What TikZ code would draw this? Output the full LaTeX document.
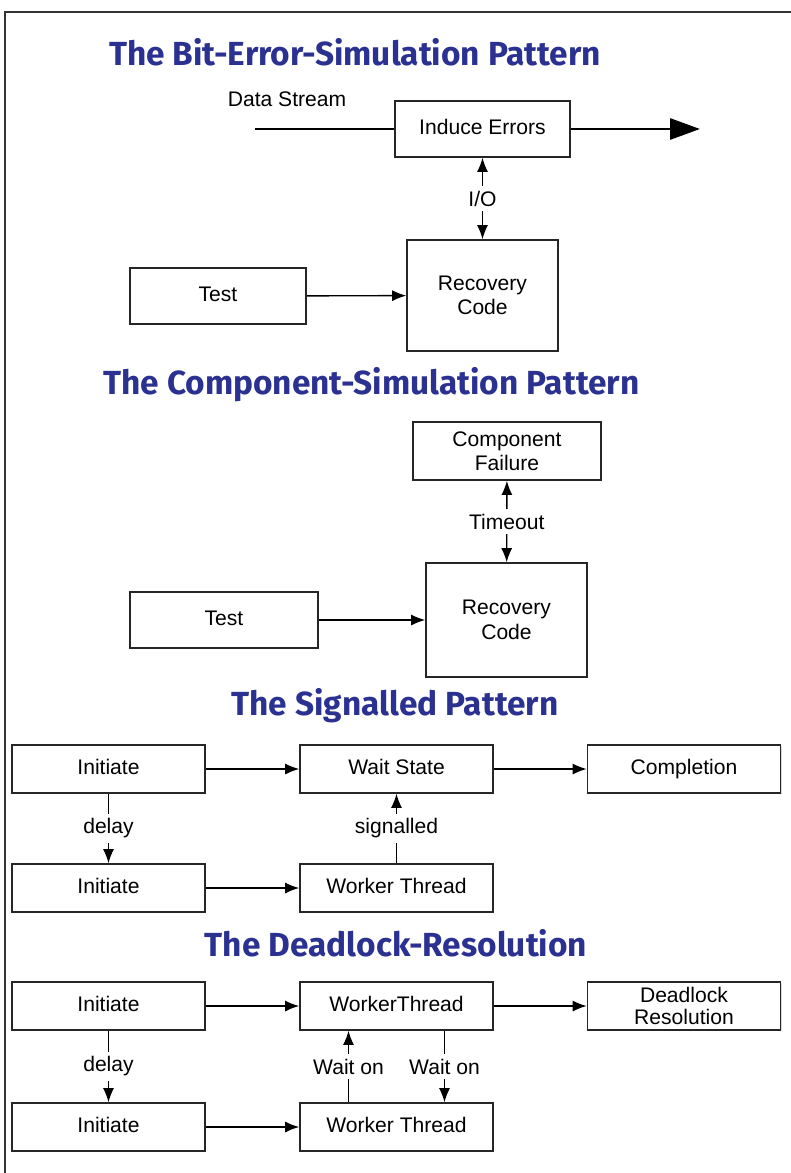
\documentclass[tikz,border=0pt]{standalone}
\usepackage{fontspec}
\setmainfont{Liberation Sans}
\newfontfamily\titlefont{Fira Sans}
\usetikzlibrary{arrows.meta,shadows}
\definecolor{titleblue}{RGB}{43,49,145}
\tikzset{
  box/.style={draw=black!85, line width=0.9pt, fill=white, inner sep=0pt, align=center,
    font=\fontsize{12}{14}\selectfont,
    drop shadow={shadow xshift=0.7pt,shadow yshift=-0.7pt,opacity=0.3}},
  title/.style={font=\titlefont\bfseries\fontsize{19}{22}\selectfont, text=titleblue},
  lbl/.style={fill=white, inner sep=2.5pt, font=\fontsize{12}{14}\selectfont},
  conn/.style={line width=0.8pt, -{Latex[length=2.8mm,width=2.2mm]}},
  dbl/.style={line width=0.8pt, {Latex[length=2.8mm,width=2.2mm]}-{Latex[length=2.8mm,width=2.2mm]}},
  wide/.style={minimum width=3.86cm, minimum height=0.96cm},
  oneline/.style={text height=1.7ex, text depth=0.5ex},
}
\begin{document}
\begin{tikzpicture}
\useasboundingbox (0,0) rectangle (15.82,-23.46);
% frame
\draw[line width=1.5pt, black!80] (0.1,-23.46) -- (0.1,-0.24) -- (15.82,-0.24);

% Bit-Error-Simulation
\node[title] (title1) at (7.1,-1.04) {The Bit-Error-Simulation Pattern};
\node[font=\fontsize{12}{14}\selectfont] (dstxt) at (5.74,-1.98) {Data Stream};
\node[box, oneline, minimum width=3.5cm, minimum height=1.12cm] (induce) at (9.65,-2.58) {Induce Errors};
\node[box, minimum width=3.02cm, minimum height=2.22cm] (rec1) at (9.65,-5.91) {Recovery\\Code};
\node[box, oneline, minimum width=3.52cm, minimum height=1.12cm] (test1) at (4.36,-5.92) {Test};
\coordinate (dsin) at (5.1,-2.58);
\coordinate (dsout) at (14.0,-2.58);
\draw[line width=1.7pt] (dsin) -- (induce.west);
\draw[line width=1.7pt, -{Triangle[length=6mm,width=4.2mm]}] (induce.east) -- (dsout);
\draw[dbl] (induce) -- node[lbl]{I/O} (rec1);
\draw[conn] (test1) -- (rec1);

% Component-Simulation
\node[title] (title2) at (7.43,-7.7) {The Component-Simulation Pattern};
\node[box, minimum width=3.76cm, minimum height=1.16cm, font=\fontsize{12}{13.5}\selectfont] (fail) at (10.14,-9.02) {Component\\Failure};
\node[box, minimum width=3.22cm, minimum height=2.28cm] (rec2) at (10.13,-12.4) {Recovery\\Code};
\node[box, oneline, minimum width=3.76cm, minimum height=1.12cm] (test2) at (4.48,-12.4) {Test};
\draw[dbl] (fail) -- node[lbl]{Timeout} (rec2);
\draw[conn] (test2) -- (rec2);

% Signalled
\node[title] (title3) at (7.9,-14.12) {The Signalled Pattern};
\node[box, wide, oneline] (init1) at (2.17,-15.38) {Initiate};
\node[box, wide, oneline] (wait) at (7.93,-15.38) {Wait State};
\node[box, wide, oneline] (comp) at (13.68,-15.38) {Completion};
\node[box, wide, oneline] (init2) at (2.17,-17.76) {Initiate};
\node[box, wide, oneline] (work1) at (7.93,-17.76) {Worker Thread};
\draw[conn] (init1) -- (wait);
\draw[conn] (wait) -- (comp);
\draw[conn] (init2) -- (work1);
\draw[conn] (init1) -- node[lbl]{delay} (init2);
\draw[conn] (work1) -- node[lbl]{signalled} (wait);

% Deadlock-Resolution
\node[title] (title4) at (7.92,-18.86) {The Deadlock-Resolution};
\node[box, wide, oneline] (init3) at (2.17,-20.12) {Initiate};
\node[box, wide, oneline] (wt) at (7.93,-20.12) {WorkerThread};
\node[box, wide, font=\fontsize{12}{13}\selectfont] (dead) at (13.68,-20.12) {Deadlock\\Resolution};
\node[box, wide, oneline] (init4) at (2.17,-22.54) {Initiate};
\node[box, wide, oneline] (wt2) at (7.93,-22.54) {Worker Thread};
\draw[conn] (init3) -- (wt);
\draw[conn] (wt) -- (dead);
\draw[conn] (init4) -- (wt2);
\draw[conn] (init3) -- node[lbl]{delay} (init4);
\draw[conn] ([xshift=-0.96cm]wt2.north) -- node[lbl]{Wait on} ([xshift=-0.96cm]wt.south);
\draw[conn] ([xshift=0.96cm]wt.south) -- node[lbl]{Wait on} ([xshift=0.96cm]wt2.north);
\end{tikzpicture}
\end{document}
